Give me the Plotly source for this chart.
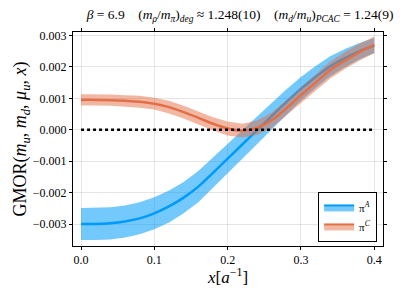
import plotly.graph_objects as go

# x grid [a^-1]
x_vals = [0.00, 0.02, 0.04, 0.06, 0.08, 0.10, 0.12, 0.14, 0.16, 0.18, 0.20,
          0.22, 0.24, 0.26, 0.28, 0.30, 0.32, 0.34, 0.36, 0.38, 0.40]

# pi^A central values and half-widths of the error band
piA_mean = [-0.00300, -0.00300, -0.00298, -0.00292, -0.00282, -0.00266, -0.00244,
            -0.00216, -0.00181, -0.00137, -0.00092, -0.00047, -0.00002, 0.00043,
            0.00088, 0.00130, 0.00168, 0.00202, 0.00228, 0.00250, 0.00268]
piA_err = [0.00051, 0.00051, 0.00051, 0.00051, 0.00051, 0.00051, 0.00051,
           0.00050, 0.00050, 0.00049, 0.00048, 0.00046, 0.00044, 0.00042,
           0.00040, 0.00038, 0.00035, 0.00032, 0.00029, 0.00026, 0.00024]

# pi^C central values and half-widths of the error band
piC_mean = [0.00095, 0.00095, 0.00094, 0.00092, 0.00089, 0.00083, 0.00072,
            0.00056, 0.00038, 0.00019, 0.00004, -0.00003, 0.00006, 0.00030,
            0.00068, 0.00110, 0.00150, 0.00190, 0.00220, 0.00247, 0.00270]
piC_err = [0.00018, 0.00018, 0.00018, 0.00018, 0.00019, 0.00019, 0.00020,
           0.00020, 0.00021, 0.00021, 0.00022, 0.00022, 0.00023, 0.00024,
           0.00025, 0.00026, 0.00026, 0.00027, 0.00027, 0.00027, 0.00027]

zero_x = [0.0, 0.4]
zero_y = [0.0, 0.0]

x_ticks = [0.0, 0.1, 0.2, 0.3, 0.4]
y_ticks = [-0.003, -0.002, -0.001, 0.0, 0.001, 0.002, 0.003]

BLUE = "#009AFA"
ORANGE = "#E36F47"
FONT = "Liberation Serif"


def band(xs, m, e):
    up = [a + b for a, b in zip(m, e)]
    lo = [a - b for a, b in zip(m, e)]
    return xs + xs[::-1], up + lo[::-1]


fig = go.Figure()

bx, by = band(x_vals, piA_mean, piA_err)
fig.add_trace(go.Scatter(x=bx, y=by, fill="toself", fillcolor="rgba(0,154,250,0.55)",
                         line=dict(color="rgba(0,154,250,0)", width=0), mode="lines",
                         showlegend=False, hoverinfo="skip"))
fig.add_trace(go.Scatter(x=x_vals, y=piA_mean, mode="lines", line=dict(color=BLUE, width=2.5),
                         showlegend=False, line_shape="spline"))

cx, cy = band(x_vals, piC_mean, piC_err)
fig.add_trace(go.Scatter(x=cx, y=cy, fill="toself", fillcolor="rgba(227,111,71,0.5)",
                         line=dict(color="rgba(227,111,71,0)", width=0), mode="lines",
                         showlegend=False, hoverinfo="skip"))
fig.add_trace(go.Scatter(x=x_vals, y=piC_mean, mode="lines", line=dict(color=ORANGE, width=2.5),
                         showlegend=False, line_shape="spline"))

fig.add_trace(go.Scatter(x=zero_x, y=zero_y, mode="lines",
                         line=dict(color="black", width=2.5, dash="dot"), showlegend=False))

# legend entries (patch with band colour and central line border)
fig.add_trace(go.Scatter(x=[None], y=[None], mode="lines", fill="toself",
                         fillcolor="rgba(0,154,250,0.55)", line=dict(color=BLUE, width=2),
                         name="π<sup><i>A</i></sup>"))
fig.add_trace(go.Scatter(x=[None], y=[None], mode="lines", fill="toself",
                         fillcolor="rgba(227,111,71,0.5)", line=dict(color=ORANGE, width=2),
                         name="π<sup><i>C</i></sup>"))

axis_common = dict(showgrid=True, gridcolor="rgba(0,0,0,0.1)", gridwidth=1,
                   zeroline=False, showline=True, linecolor="black", linewidth=1,
                   mirror="allticks", ticks="outside", ticklen=3, tickcolor="black",
                   tickfont=dict(family=FONT, size=12, color="black"))

# page body adds an 8px offset; figure sized so that it fits the 411x288 window
fig.update_layout(
    width=403, height=280,
    margin=dict(l=63, r=28, t=24, b=42),
    paper_bgcolor="white", plot_bgcolor="white",
    title=dict(text="<i>β</i> = 6.9    (<i>m<sub>ρ</sub></i>/<i>m<sub>π</sub></i>)<sub><i>deg</i></sub> ≈ 1.248(10)    (<i>m<sub>d</sub></i>/<i>m<sub>u</sub></i>)<sub><i>PCAC</i></sub> = 1.24(9)",
               x=0.576, xanchor="center", y=0.976, yanchor="middle",
               font=dict(family=FONT, size=13.5, color="black")),
    xaxis=dict(range=[-0.011, 0.412], tickvals=x_ticks, tickformat=".1f", **axis_common),
    yaxis=dict(range=[-0.0037, 0.00311], tickvals=y_ticks, tickformat=".3f",
               title=dict(text="GMOR(<i>m<sub>u</sub></i>, <i>m<sub>d</sub></i>, <i>μ<sub>u</sub></i>, <i>x</i>)",
                          font=dict(family=FONT, size=18, color="black"), standoff=0),
               **axis_common),
    legend=dict(x=0.981, y=0.019, xanchor="right", yanchor="bottom",
                bordercolor="black", borderwidth=1, bgcolor="white",
                font=dict(family=FONT, size=11, color="black"),
                itemwidth=30, tracegroupgap=0),
    annotations=[dict(text="<i>x</i>[<i>a</i><sup>−1</sup>]", xref="paper", yref="paper",
                      x=0.497, y=-0.142, xanchor="center", yanchor="middle", showarrow=False,
                      font=dict(family=FONT, size=17, color="black"))],
)

fig.write_html("out.html")
